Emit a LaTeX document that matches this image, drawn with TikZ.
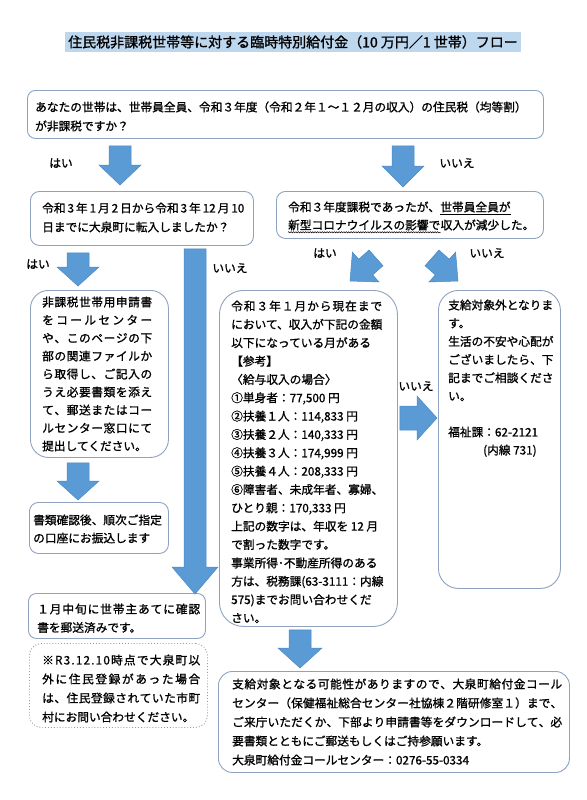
\documentclass[tikz,border=0pt]{standalone}
\usepackage{fontspec}
\setmainfont{Noto Sans CJK JP}[FakeBold=1.1]
\usetikzlibrary{calc,decorations.pathmorphing}
\definecolor{arrowblue}{HTML}{5B9BD5}
\definecolor{arrowedge}{HTML}{4A89C5}
\definecolor{boxline}{HTML}{8FA2C0}
\definecolor{titlebg}{HTML}{BDD7EE}
\definecolor{dotline}{HTML}{9A9A9A}
\def\spreadaux#1{\ifx\relax#1\else#1\hskip0pt plus 1fil\relax\expandafter\spreadaux\fi}
\newcommand\jl[2]{\hbox to #1pt{\spreadaux#2\relax\unskip}}
\newcommand\tlines[5]{\foreach \tline [count=\tidx] in {#5}{\node[txt] (#1\tidx) at (#2,{#3+(\tidx-1)*#4}) {\tline};}}
\newcommand\barrow[5]{%
  \coordinate (ba-b) at ($(#2)!#5pt!(#1)$);
  \path[blockarrow] ($(#1)!#3pt!90:(#2)$) -- ($(ba-b)!#3pt!90:(#2)$) -- ($(ba-b)!#4pt!90:(#2)$) -- (#2) -- ($(ba-b)!#4pt!-90:(#2)$) -- ($(ba-b)!#3pt!-90:(#2)$) -- ($(#1)!#3pt!-90:(#2)$) -- cycle;
}
\tikzset{
  txt/.style={inner sep=0pt, anchor=west, font=\fontsize{11.7}{14}\selectfont, text height=10.3pt, text depth=1.4pt},
  lbl/.style={inner sep=0pt, font=\fontsize{11.7}{14}\selectfont, text height=10.3pt, text depth=1.4pt},
  box/.style={draw=boxline, line width=0.9pt, rounded corners=#1, anchor=north west, inner sep=0pt},
  box/.default=9pt,
  dotbox/.style={draw=dotline, line width=0.9pt, dotted, rounded corners=#1, anchor=north west, inner sep=0pt},
  blockarrow/.style={fill=arrowblue, draw=arrowedge, line width=0.5pt, line join=miter},
  uline/.style={line width=0.6pt},
  wline/.style={line width=0.5pt, decorate, decoration={snake, amplitude=0.6pt, segment length=2.4pt}},
}
\begin{document}
\begin{tikzpicture}[x=1pt,y=-1pt]
\useasboundingbox (0,0) rectangle (586,800);
\fill[white] (0,0) rectangle (586,800);
% title
\node[fill=titlebg, inner xsep=3pt, inner ysep=0pt, minimum height=20pt, font=\fontsize{14}{16}\selectfont] (title) at (293,42) {住民税非課税世帯等に対する臨時特別給付金（10 万円／1 世帯）フロー};
% boxes
\node[box=8pt, minimum width=516pt, minimum height=48pt] (q1) at (27,90) {};
\node[box=9pt, minimum width=223pt, minimum height=54pt] (q2l) at (30,191) {};
\node[box=9pt, minimum width=267pt, minimum height=47pt] (q2r) at (276,191) {};
\node[box=18pt, minimum width=138pt, minimum height=167pt] (b3l) at (30,290) {};
\node[box=24pt, minimum width=178pt, minimum height=336pt] (b3m) at (219,290) {};
\node[box=20pt, minimum width=122pt, minimum height=298pt] (b3r) at (438,290) {};
\node[box=9pt, minimum width=139pt, minimum height=51pt] (b4l) at (29,502) {};
\node[box=8pt, minimum width=177pt, minimum height=45pt] (b5l) at (28,593) {};
\node[dotbox=12pt, minimum width=178pt, minimum height=84pt] (b6l) at (29,643) {};
\node[box=14pt, minimum width=351pt, minimum height=101pt] (b7) at (218,671) {};
% texts
\tlines{tq}{35}{107}{19}{{あなたの世帯は、世帯員全員、令和３年度（令和２年１～１２月の収入）の住民税（均等割）},{が非課税ですか？}}
\tlines{tl}{42}{208}{19}{{令和\,3\,年\,1\,月\,2\,日から令和\,3\,年\,12\,月\,10},{日までに大泉町に転入しましたか？}}
\node[txt] (r2a) at (288,207) {令和３年度課税であったが、};
\node[txt] (r2b) at (r2a.east) {世帯員全員が};
\node[txt] (r2c) at (288,225) {新型コロナウイルスの影響で};
\node[txt] (r2d) at (r2c.east) {収入が減少した。};
\draw[uline] ([yshift=-1pt]r2b.south west) -- ([yshift=-1pt]r2b.south east);
\draw[wline] ([yshift=-1.2pt]r2c.south west) -- ([yshift=-1.2pt]r2c.south east);
\tlines{t3l}{42}{302}{18}{{\jl{110}{非課税世帯用申請書}},{\jl{110}{をコールセンター}},{\jl{110}{や、このページの下}},{\jl{110}{部の関連ファイルか}},{\jl{110}{ら取得し、ご記入の}},{\jl{110}{うえ必要書類を添え}},{\jl{110}{て、郵送またはコー}},{\jl{110}{ルセンター窓口にて}},{提出してください。}}
\tlines{t3m}{231}{306}{18.35}{{\jl{151}{令和３年１月から現在まで}},{において、収入が下記の金額},{以下になっている月がある},{【参考】},{〈給与収入の場合〉},{①単身者：77,500 円},{②扶養１人：114,833 円},{③扶養２人：140,333 円},{④扶養３人：174,999 円},{⑤扶養４人：208,333 円},{⑥障害者、未成年者、寡婦、},{ひとり親：170,333 円},{上記の数字は、年収を 12 月},{で割った数字です。},{事業所得･不動産所得のある},{方は、税務課(63-3111：内線},{575)までお問い合わせくだ},{さい。}}
\tlines{t3r}{448}{305}{18.2}{{支給対象外となりま},{す。},{生活の不安や心配が},{ございましたら、下},{記までご相談くださ},{い。}}
\tlines{t3rb}{448}{432}{18.2}{{福祉課：62-2121}}
\node[txt] (t3rc) at (483,450) {(内線 731)};
\tlines{t4l}{33}{520}{18}{{書類確認後、順次ご指定},{の口座にお振込します}}
\tlines{t5l}{37}{609}{18.5}{{\jl{163}{１月中旬に世帯主あてに確認}},{書を郵送済みです。}}
\tlines{t6l}{42}{660}{19}{{\jl{158}{※R3.12.10時点で大泉町以}},{\jl{158}{外に住民登録があった場合}},{\jl{158}{は、住民登録されていた市町}},{村にお問い合わせください。}}
\tlines{t7}{232}{684}{19}{{\jl{330}{支給対象となる可能性がありますので、大泉町給付金コール}},{\jl{330}{センター（保健福祉総合センター社協棟２階研修室１）まで、}},{\jl{330}{ご来庁いただくか、下部より申請書等をダウンロードして、必}},{要書類とともにご郵送もしくはご持参願います。},{大泉町給付金コールセンター：0276-55-0334}}
% labels
\node[lbl] (y1) at (61,163) {はい};
\node[lbl] (n1) at (457,163) {いいえ};
\node[lbl] (y2) at (38,264) {はい};
\node[lbl] (n2) at (230,268) {いいえ};
\node[lbl] (y3) at (325,253) {はい};
\node[lbl] (n3) at (487,253) {いいえ};
\node[lbl] (n4) at (416,386) {いいえ};
% arrow end points
\coordinate (a1s) at ($(q1.south west)+(93,7)$);
\coordinate (a1e) at ($(q2l.north west)+(90,-6)$);
\coordinate (a2s) at ($(q1.south west)+(376,7)$);
\coordinate (a2e) at ($(q2r.north west)+(127,-4)$);
\coordinate (a3s) at ($(q2l.south west)+(48,7)$);
\coordinate (a3e) at ($(b3l.north west)+(48,-4)$);
\coordinate (a4s) at ($(q2l.south west)+(165,3)$);
\coordinate (a4e) at ($(b5l.north west)+(167,1)$);
\coordinate (a5s) at ($(q2r.south west)+(100,19)$);
\coordinate (a5e) at ($(b3m.north west)+(131,-9)$);
\coordinate (a6s) at ($(q2r.south west)+(156,19)$);
\coordinate (a6e) at ($(b3r.north west)+(20,-9)$);
\coordinate (a7s) at ($(b3m.north east)+(2,128)$);
\coordinate (a7e) at ($(b3r.north west)+(-1,128)$);
\coordinate (a8s) at ($(b3l.south west)+(48,5)$);
\coordinate (a8e) at ($(b4l.north west)+(49,-2)$);
\coordinate (a9s) at ($(b3m.south west)+(81,3)$);
\coordinate (a9e) at ($(b7.north west)+(82,-3)$);
\barrow{a1s}{a1e}{11}{21}{20}
\barrow{a2s}{a2e}{11}{21}{21}
\barrow{a3s}{a3e}{11}{21}{19}
\barrow{a4s}{a4e}{11}{23}{27}
\barrow{a5s}{a5e}{10.5}{20}{21}
\barrow{a6s}{a6e}{10.5}{20}{21}
\barrow{a7s}{a7e}{12}{22}{20}
\barrow{a8s}{a8e}{11}{21}{19}
\barrow{a9s}{a9e}{11}{22}{20}
\end{tikzpicture}
\end{document}
